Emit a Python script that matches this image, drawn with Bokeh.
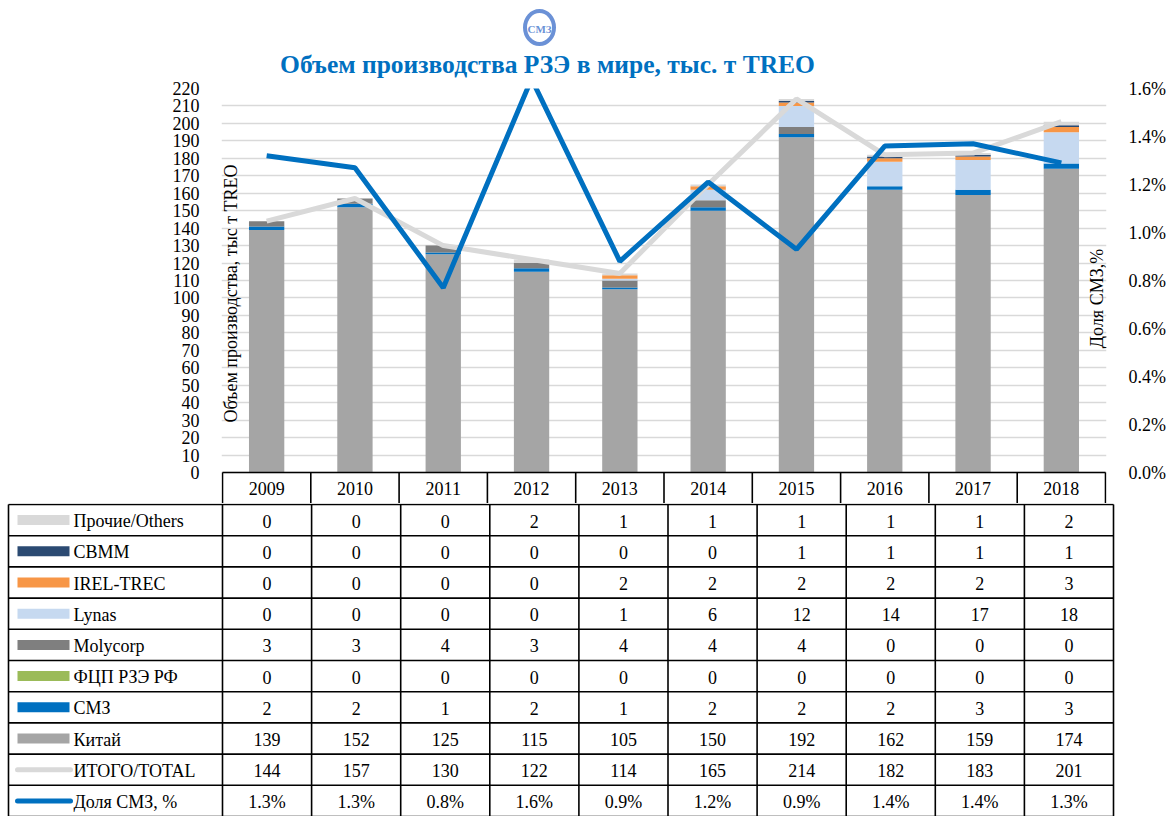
import numpy as np
from bokeh.plotting import figure
from bokeh.layouts import column
from bokeh.models import (Range1d, LinearAxis, FixedTicker, NumeralTickFormatter, Label,
                          ColumnDataSource)
from bokeh.core.properties import value
from bokeh.embed import file_html
from bokeh.resources import INLINE

# ---------------- data ----------------
years = ["2009", "2010", "2011", "2012", "2013", "2014", "2015", "2016", "2017", "2018"]
others = [0, 0, 0, 2, 1, 1, 1, 1, 1, 2]
cbmm = [0, 0, 0, 0, 0, 0, 1, 1, 1, 1]
irel = [0, 0, 0, 0, 2, 2, 2, 2, 2, 3]
lynas = [0, 0, 0, 0, 1, 6, 12, 14, 17, 18]
molycorp = [3, 3, 4, 3, 4, 4, 4, 0, 0, 0]
fcp = [0, 0, 0, 0, 0, 0, 0, 0, 0, 0]
smz = [2, 2, 1, 2, 1, 2, 2, 2, 3, 3]
china = [139, 152, 125, 115, 105, 150, 192, 162, 159, 174]
total = [144, 157, 130, 122, 114, 165, 214, 182, 183, 201]
share_pct = [1.32, 1.27, 0.77, 1.64, 0.88, 1.21, 0.93, 1.36, 1.37, 1.29]

series_names = ["Прочие/Others", "CBMM", "IREL-TREC", "Lynas", "Molycorp",
                "ФЦП РЗЭ РФ", "СМЗ", "Китай", "ИТОГО/TOTAL", "Доля СМЗ, %"]

title_text = "Объем производства РЗЭ в мире, тыс. т TREO"
logo_text = "СМЗ"
y_label = "Объем производства, тыс т TREO"
y2_label = "Доля СМЗ,%"

# ---------------- style / layout ----------------
FONT = "Liberation Serif"
C_OTHERS = "#D9D9D9"
C_CBMM = "#2B4A72"
C_IREL = "#F79646"
C_LYNAS = "#C6D9F0"
C_MOLY = "#7F7F7F"
C_FCP = "#9BBB59"
C_SMZ = "#0070C0"
C_CHINA = "#A5A5A5"
C_TOTAL = "#D9D9D9"
C_SHARE = "#0070C0"
C_TITLE = "#0070C0"
C_LOGO = "#6B91D6"
C_GRID = "#D9D9D9"

FIG_W = 1168
N = len(years)
COL_W = 89.1                 # px per category
UPX = 1.0 / COL_W            # x data units per px
X0_PAGE = 222                # page x of data x = 0.5
W_LEFT = X0_PAGE - 1         # frame starts 1px left of the first column edge
W_FRAME = int(round(N * COL_W)) + 2
W_RIGHT = FIG_W - W_LEFT - W_FRAME

HEAD_FIG_H = 78
H_TOP = 10
H_FRAME = 384                # value axis 0..220
HDR_ROW = 31                 # table header row (years), inside chart frame
Y0_PAGE = HEAD_FIG_H + H_TOP + H_FRAME
TABLE_H = 313
ROW_H = 31.2
TABLE_LEFT = 8
Y_MAX = 220
SHARE_MAX = 0.016
UPY = Y_MAX / H_FRAME


def px_x(page_x):
    return 0.5 + (page_x - X0_PAGE) * UPX


def px_y(page_y):
    return (Y0_PAGE - page_y) * UPY


def common(fig, left=0, right=0, top=0, bottom=0):
    fig.outline_line_color = None
    fig.background_fill_color = "white"
    fig.border_fill_color = "white"
    fig.min_border_left = left
    fig.min_border_right = right
    fig.min_border_top = top
    fig.min_border_bottom = bottom
    fig.frame_align = False


# ---------------- header (logo + title) ----------------
head = figure(width=FIG_W, height=HEAD_FIG_H, x_range=Range1d(0, FIG_W),
              y_range=Range1d(HEAD_FIG_H, 0), output_backend="svg", toolbar_location=None)
common(head)
head.axis.visible = False
head.grid.visible = False
head.ellipse(x=[539], y=[27], width=29, height=33, fill_color=None,
             line_color=C_LOGO, line_width=4)
head.text(x=[539], y=[28], text=[logo_text], text_font=value(FONT), text_font_style="bold",
          text_font_size=value("11px"), text_color=C_LOGO, text_align="center",
          text_baseline="middle")
head.text(x=[547], y=[64], text=[title_text], text_font=value(FONT), text_font_style="bold",
          text_font_size=value("25.5px"), text_color=C_TITLE, text_align="center",
          text_baseline="middle")

# ---------------- chart (with the header row of the table) ----------------
p = figure(width=FIG_W, height=H_TOP + H_FRAME + HDR_ROW,
           x_range=Range1d(px_x(W_LEFT), px_x(W_LEFT + W_FRAME)),
           y_range=Range1d(-HDR_ROW * UPY, Y_MAX),
           output_backend="svg", toolbar_location=None)
common(p, left=W_LEFT, right=W_RIGHT, top=H_TOP, bottom=0)
p.extra_y_ranges = {"share": Range1d(-HDR_ROW * SHARE_MAX / H_FRAME, SHARE_MAX)}

xs = list(range(1, N + 1))
src = ColumnDataSource(dict(x=xs, china=china, smz=smz, fcp=fcp, molycorp=molycorp,
                            lynas=lynas, irel=irel, cbmm=cbmm, others=others,
                            total=total, share=list(np.array(share_pct) / 100.0)))

stack = ["china", "smz", "fcp", "molycorp", "lynas", "irel", "cbmm", "others"]
stack_colors = [C_CHINA, C_SMZ, C_FCP, C_MOLY, C_LYNAS, C_IREL, C_CBMM, C_OTHERS]
p.vbar_stack(stack, x="x", width=0.4, fill_color=stack_colors, line_color=None,
             line_width=0, source=src)

p.line("x", "total", source=src, line_color=C_TOTAL, line_width=5)
p.line("x", "share", source=src, y_range_name="share", line_color=C_SHARE, line_width=5)

p.xaxis.visible = False

yax = p.yaxis[0]
yax.ticker = FixedTicker(ticks=list(range(0, Y_MAX + 1, 10)))
yax.axis_line_color = None
yax.major_tick_line_color = None
yax.minor_tick_line_color = None
yax.major_label_text_font = FONT
yax.major_label_text_font_size = "18px"
yax.major_label_text_color = "black"
yax.major_label_standoff = 16

rax = LinearAxis(y_range_name="share",
                 ticker=FixedTicker(ticks=[i * 0.002 for i in range(9)]),
                 formatter=NumeralTickFormatter(format="0.0%"))
rax.axis_line_color = None
rax.major_tick_line_color = None
rax.minor_tick_line_color = None
rax.major_label_text_font = FONT
rax.major_label_text_font_size = "18px"
rax.major_label_text_color = "black"
rax.major_label_standoff = 16
p.add_layout(rax, "right")

p.xgrid.visible = False
p.ygrid.ticker = yax.ticker
p.ygrid.grid_line_color = C_GRID
p.ygrid.grid_line_width = 1.5

p.add_layout(Label(x=px_x(231), y=px_y(293), text=y_label, angle=np.pi / 2,
                   text_align="center", text_baseline="middle", text_font=FONT,
                   text_font_size="18px", text_color="black"))
p.add_layout(Label(x=px_x(1104), y=px_y(298), text=y2_label, angle=np.pi / 2,
                   text_align="center", text_baseline="middle", text_font=FONT,
                   text_font_size="18px", text_color="black"))

# header row of the data table: borders + years
hseg = dict(x0=[0.5], y0=[0.0], x1=[N + 0.5], y1=[0.0])
for i in range(N + 1):
    hseg["x0"].append(0.5 + i); hseg["x1"].append(0.5 + i)
    hseg["y0"].append(0.0); hseg["y1"].append(-HDR_ROW * UPY)
p.segment("x0", "y0", "x1", "y1", source=ColumnDataSource(hseg), line_color="black",
          line_width=1.6)
p.text(x=xs, y=[-16 * UPY] * N, text=years, text_align="center", text_baseline="middle",
       text_font=value(FONT), text_font_size=value("18px"), text_color="black")

# ---------------- data table body ----------------
t = figure(width=FIG_W, height=TABLE_H, x_range=Range1d(px_x(0), px_x(FIG_W)),
           y_range=Range1d(TABLE_H - 1, -1), output_backend="svg", toolbar_location=None)
common(t)
t.axis.visible = False
t.grid.visible = False

n_rows = len(series_names)
x_left = px_x(TABLE_LEFT)
x_right = N + 0.5
bottom = n_rows * ROW_H
seg = dict(x0=[], y0=[], x1=[], y1=[])
for k in range(n_rows + 1):
    seg["x0"].append(x_left); seg["x1"].append(x_right)
    seg["y0"].append(k * ROW_H); seg["y1"].append(k * ROW_H)
for xv in [x_left] + [0.5 + i for i in range(N + 1)]:
    seg["x0"].append(xv); seg["x1"].append(xv)
    seg["y0"].append(0); seg["y1"].append(bottom)
t.segment("x0", "y0", "x1", "y1", source=ColumnDataSource(seg), line_color="black",
          line_width=1.6)

row_values = [others, cbmm, irel, lynas, molycorp, fcp, smz, china, total,
              ["%.1f%%" % v for v in share_pct]]
cell = dict(x=[], y=[], t=[])
for k, vals in enumerate(row_values):
    for i, v in enumerate(vals):
        cell["x"].append(xs[i]); cell["y"].append(k * ROW_H + ROW_H / 2 + 1)
        cell["t"].append(str(v))
t.text("x", "y", text="t", source=ColumnDataSource(cell), text_align="center",
       text_baseline="middle", text_font=value(FONT), text_font_size=value("18px"),
       text_color="black")

names = dict(x=[px_x(73)] * n_rows, y=[k * ROW_H + ROW_H / 2 + 1 for k in range(n_rows)],
             t=series_names)
t.text("x", "y", text="t", source=ColumnDataSource(names), text_align="left",
       text_baseline="middle", text_font=value(FONT), text_font_size=value("18px"),
       text_color="black")

swatch_colors = [C_OTHERS, C_CBMM, C_IREL, C_LYNAS, C_MOLY, C_FCP, C_SMZ, C_CHINA]
ns = len(swatch_colors)
sw = dict(l=[px_x(17)] * ns, r=[px_x(69)] * ns,
          top=[k * ROW_H + ROW_H / 2 - 5 for k in range(ns)],
          bot=[k * ROW_H + ROW_H / 2 + 5 for k in range(ns)],
          c=swatch_colors)
t.quad(left="l", right="r", top="top", bottom="bot", fill_color="c", line_color=None,
       source=ColumnDataSource(sw))
line_rows = [8, 9]
line_cols = [C_TOTAL, C_SHARE]
ls = dict(x0=[px_x(17)] * 2, x1=[px_x(70)] * 2,
          y=[k * ROW_H + ROW_H / 2 for k in line_rows], c=line_cols)
t.segment("x0", "y", "x1", "y", source=ColumnDataSource(ls), line_color="c",
          line_width=5, line_cap="round")

layout = column(head, p, t, spacing=0)
open("out.html", "w").write(file_html(layout, INLINE))
